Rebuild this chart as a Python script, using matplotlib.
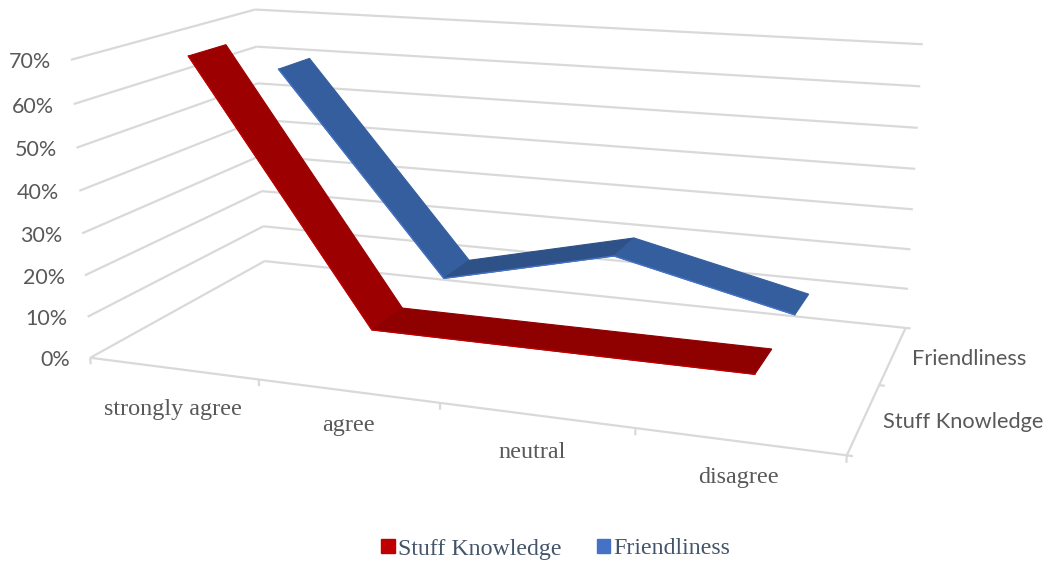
import numpy as np
import matplotlib
matplotlib.use('Agg')
import matplotlib.pyplot as plt
from matplotlib.patches import Patch

categories = ['strongly agree', 'agree', 'neutral', 'disagree']
series_names = ['Stuff Knowledge', 'Friendliness']
stuff_values = [0.70, 0.10, 0.10, 0.10]
friend_values = [0.60, 0.10, 0.20, 0.10]
value_ticks = [0, 0.1, 0.2, 0.3, 0.4, 0.5, 0.6, 0.7]
value_labels = ['0%', '10%', '20%', '30%', '40%', '50%', '60%', '70%']

W, H = 1049, 567
GRID = '#d9d9d9'
VMAX = 0.7

# where the box edges sit on the canvas, from 0% up to 70%
front_left = [(91, 357), (87, 317), (85, 276), (82, 233), (79, 191), (76.5, 148), (73.5, 104), (71, 60)]
back_left = [(264, 261), (263, 226), (262, 191), (261, 156), (260, 120.5), (258, 83), (257, 46), (255, 9.5)]
back_right = [(905.5, 328), (908, 289), (910.5, 250), (913, 209), (915, 169), (918, 128), (920, 86), (922.7, 44)]
front_right_floor = (847, 455)


# perspective camera for the 3D box, least squares on the corners above
def fit_camera():
    pts, px = [], []
    for k in range(8):
        z = k / 7
        pts += [(0, 0, z), (0, 1, z), (1, 1, z)]
        px += [front_left[k], back_left[k], back_right[k]]
    pts.append((1, 0, 0))
    px.append(front_right_floor)
    pts = np.array(pts, float)
    px = np.array(px, float) / 1000
    weights = np.ones(len(pts))
    for _ in range(10):
        rows = []
        for (x, y, z), (u, v), w in zip(pts, px, weights):
            rows.append(np.array([x, y, z, 1, 0, 0, 0, 0, -u * x, -u * y, -u * z, -u]) * w)
            rows.append(np.array([0, 0, 0, 0, x, y, z, 1, -v * x, -v * y, -v * z, -v]) * w)
        m = np.linalg.svd(np.array(rows))[2][-1].reshape(3, 4)
        weights = 1 / np.abs(m[2] @ np.c_[pts, np.ones(len(pts))].T)
    m[:2] *= 1000
    return m


CAM = fit_camera()


def project(x, y, value):
    p = CAM @ np.array([x, y, value / VMAX, 1.0])
    return p[0] / p[2], p[1] / p[2]


fig = plt.figure(figsize=(W / 100, H / 100), dpi=100)
ax = fig.add_axes([0, 0, 1, 1])
ax.set_xlim(0, W)
ax.set_ylim(H, 0)
ax.axis('off')


def line3d(a, b):
    pa, pb = project(*a), project(*b)
    ax.plot([pa[0], pb[0]], [pa[1], pb[1]], color=GRID, lw=1.6, solid_capstyle='butt', zorder=1)


# gridlines on the two walls
for v, lab in zip(value_ticks, value_labels):
    line3d((0, 0, v), (0, 1, v))
    line3d((0, 1, v), (1, 1, v))
    px, py = project(0, 0, v)
    ax.text(px - 20, py + 2.5, lab, ha='right', va='center', fontsize=15.5, family='Lato', color='#595959')

# floor edges and ticks
line3d((0, 0, 0), (1, 0, 0))
line3d((1, 0, 0), (1, 1, 0))
for i in range(5):
    line3d((i / 4, 0, 0), (i / 4, 0, -0.016))
for d in (0, 0.5, 1):
    line3d((1, d, 0), (1.007, d, 0))


def ribbon(values, centre, shades, edge, z):
    half = 0.1
    xs = [(i + 0.5) / 4 for i in range(len(values))]
    for i in range(len(values) - 1):
        poly = [project(xs[i], centre - half, values[i]),
                project(xs[i + 1], centre - half, values[i + 1]),
                project(xs[i + 1], centre + half, values[i + 1]),
                project(xs[i], centre + half, values[i])]
        ax.fill(*zip(*poly), color=shades[i], lw=0.8, zorder=z)
    front = [project(x, centre - half, v) for x, v in zip(xs, values)]
    ax.plot(*zip(*front), color=edge, lw=1.0, solid_joinstyle='miter', zorder=z)


ribbon(friend_values, 0.755, ['#355e9f', '#2e5187', '#355e9f'], '#4472c4', 3)
ribbon(stuff_values, 0.255, ['#9c0000', '#8f0000', '#8f0000'], '#c00000', 4)

# category and series labels
cat_pos = [(173, 409), (348, 426), (532, 452), (738, 478)]
for name, (x, y) in zip(categories, cat_pos):
    ax.text(x, y, name, ha='center', va='center', fontsize=17.4, family='Liberation Serif', color='#595959')
ax.text(912, 359, 'Friendliness', ha='left', va='center', fontsize=15.7, family='Lato', color='#595959')
ax.text(883, 422, 'Stuff Knowledge', ha='left', va='center', fontsize=15.7, family='Lato', color='#595959')

handles = [Patch(color='#c00000'), Patch(color='#4472c4')]
ax.legend(handles, series_names, ncol=2, frameon=False, loc='center', bbox_to_anchor=(556 / W, 1 - 549 / H),
          prop={'family': 'Liberation Serif', 'size': 17.2}, labelcolor='#44546a',
          handlelength=0.55, handleheight=0.55, handletextpad=0.15, columnspacing=1.48, borderpad=0)

fig.savefig('out.png', dpi=100)
